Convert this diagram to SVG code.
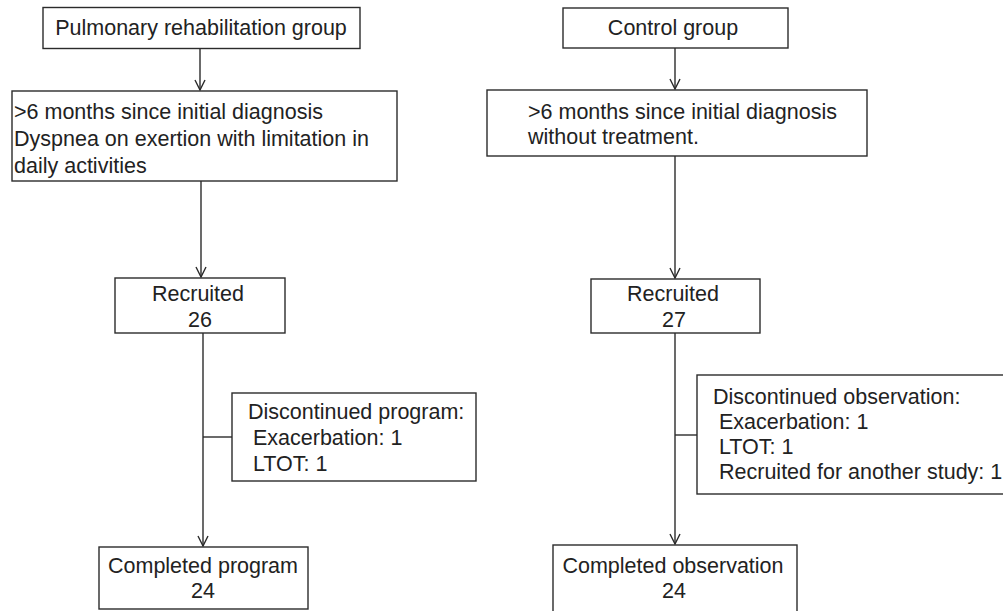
<svg xmlns="http://www.w3.org/2000/svg" width="1003" height="611" viewBox="0 0 1003 611">
<style>
.box{fill:#fff;stroke:#2b2b2b;stroke-width:1.4}
.t{font-family:"Liberation Sans",Arial,sans-serif;font-size:21.5px;fill:#222}
.c{text-anchor:middle}
.ln{fill:none;stroke:#2b2b2b;stroke-width:1.4}
</style>
<defs>
<marker id="ah" markerWidth="12" markerHeight="12" refX="11" refY="6" orient="auto" markerUnits="userSpaceOnUse" viewBox="0 0 12 12">
<path d="M1,1 L11,6 L1,11" fill="none" stroke="#2b2b2b" stroke-width="1.4"/>
</marker>
</defs>
<rect width="1003" height="611" fill="#fff"/>
<g id="connectors">
<line class="ln" x1="200" y1="48" x2="200" y2="90" marker-end="url(#ah)"/>
<line class="ln" x1="201" y1="181" x2="201" y2="277" marker-end="url(#ah)"/>
<line class="ln" x1="203" y1="333" x2="203" y2="546" marker-end="url(#ah)"/>
<line class="ln" x1="203" y1="437" x2="232" y2="437"/>
<line class="ln" x1="675" y1="48" x2="675" y2="89" marker-end="url(#ah)"/>
<line class="ln" x1="675" y1="156" x2="675" y2="278" marker-end="url(#ah)"/>
<line class="ln" x1="675" y1="333" x2="675" y2="544" marker-end="url(#ah)"/>
<line class="ln" x1="675" y1="435" x2="697" y2="435"/>
</g>
<g id="pr-group">
<rect class="box" x="43" y="7.5" width="317" height="41"/>
<text class="t c" x="201" y="35">Pulmonary rehabilitation group</text>
</g>
<g id="pr-criteria">
<rect class="box" x="12" y="91" width="385" height="90"/>
<text class="t" x="14" y="119">&gt;6 months since initial diagnosis</text>
<text class="t" x="14" y="146">Dyspnea on exertion with limitation in</text>
<text class="t" x="14" y="173">daily activities</text>
</g>
<g id="pr-recruited">
<rect class="box" x="115" y="278" width="170" height="55"/>
<text class="t c" x="198" y="301">Recruited</text>
<text class="t c" x="200" y="327">26</text>
</g>
<g id="pr-discontinued">
<rect class="box" x="232" y="393" width="244" height="88"/>
<text class="t" x="248" y="419">Discontinued program:</text>
<text class="t" x="253" y="445">Exacerbation: 1</text>
<text class="t" x="253" y="471">LTOT: 1</text>
</g>
<g id="pr-completed">
<rect class="box" x="99" y="547" width="209" height="62"/>
<text class="t c" x="203" y="573">Completed program</text>
<text class="t c" x="203" y="598">24</text>
</g>
<g id="ctrl-group">
<rect class="box" x="563" y="8" width="225" height="40"/>
<text class="t c" x="673" y="35">Control group</text>
</g>
<g id="ctrl-criteria">
<rect class="box" x="487" y="90" width="380" height="66"/>
<text class="t" x="528" y="119">&gt;6 months since initial diagnosis</text>
<text class="t" x="528" y="144">without treatment.</text>
</g>
<g id="ctrl-recruited">
<rect class="box" x="591" y="279" width="169" height="54"/>
<text class="t c" x="673" y="301">Recruited</text>
<text class="t c" x="674" y="327">27</text>
</g>
<g id="ctrl-discontinued">
<rect class="box" x="697" y="375" width="320" height="119"/>
<text class="t" x="713" y="404">Discontinued observation:</text>
<text class="t" x="719" y="429">Exacerbation: 1</text>
<text class="t" x="719" y="454">LTOT: 1</text>
<text class="t" x="719" y="479">Recruited for another study: 1</text>
</g>
<g id="ctrl-completed">
<rect class="box" x="553" y="545" width="244" height="70"/>
<text class="t c" x="673" y="573">Completed observation</text>
<text class="t c" x="674" y="598">24</text>
</g>
</svg>
